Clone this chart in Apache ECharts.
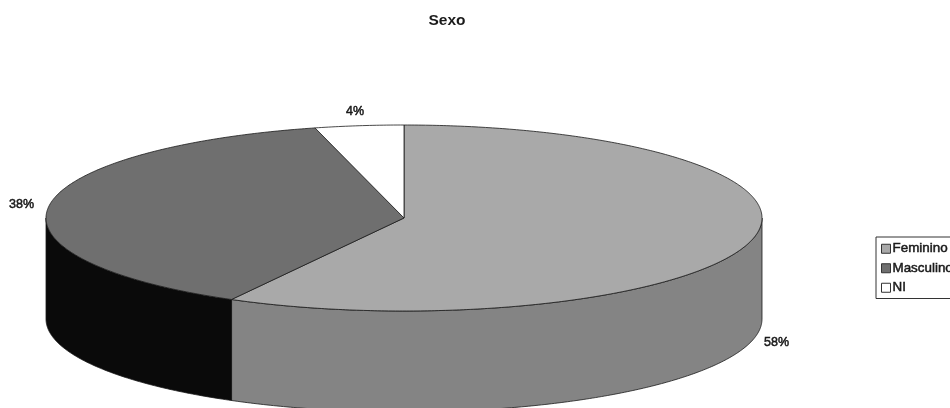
<!DOCTYPE html>
<html>
<head>
<meta charset="utf-8">
<style>html,body{margin:0;padding:0;background:#fff;overflow:hidden}#chart{width:950px;height:408px}</style>
<script src="https://cdn.jsdelivr.net/npm/echarts@6/dist/echarts.min.js"></script>
</head>
<body>
<div id="chart"></div>
<script>
// Distribution by sex, drawn as an extruded pie
const chartTitle = 'Sexo';
const categories = ['Feminino', 'Masculino', 'NI'];
const percentages = [58, 38, 4];
const topColors = ['#a9a9a9', '#6f6f6f', '#ffffff'];
const sideColors = ['#848484', '#0a0a0a', '#ffffff'];
const labelAnchors = [[764, 343], [9, 205], [346, 112]];

// Disc geometry in page pixels
const disc = { cx: 404, cy: 218, rx: 358, ry: 93, depth: 101 };
const total = percentages.reduce((a, b) => a + b, 0);
const fontFamily = '"Liberation Sans", Arial, sans-serif';

function rimPoint(angle, drop) {
  return [disc.cx + disc.rx * Math.sin(angle), disc.cy - disc.ry * Math.cos(angle) + drop];
}

function arcPoints(from, to, drop) {
  const steps = Math.max(2, Math.ceil(Math.abs(to - from) / 0.01));
  const pts = [];
  for (let i = 0; i <= steps; i++) pts.push(rimPoint(from + (to - from) * i / steps, drop));
  return pts;
}

function sliceRenderer(index) {
  const before = percentages.slice(0, index).reduce((a, b) => a + b, 0);
  const start = before / total * 2 * Math.PI;
  const end = (before + percentages[index]) / total * 2 * Math.PI;
  const line = { stroke: '#1a1a1a', lineWidth: 0.8 };
  return function () {
    const children = [];
    // Only the rim between 90 and 270 degrees faces the viewer
    const a = Math.max(start, Math.PI / 2);
    const b = Math.min(end, 3 * Math.PI / 2);
    if (b > a) {
      const wall = arcPoints(a, b, 0).concat(arcPoints(b, a, disc.depth));
      children.push({
        type: 'polygon', shape: { points: wall },
        style: Object.assign({ fill: sideColors[index] }, line)
      });
    }
    const wedge = [[disc.cx, disc.cy]].concat(arcPoints(start, end, 0));
    children.push({
      type: 'polygon', shape: { points: wedge },
      style: Object.assign({ fill: topColors[index] }, line)
    });
    children.push({
      type: 'text',
      style: {
        text: percentages[index] + '%',
        x: labelAnchors[index][0], y: labelAnchors[index][1],
        font: '400 12.5px ' + fontFamily,
        fill: '#1a1a1a', stroke: '#1a1a1a', lineWidth: 0.5,
        align: 'left', verticalAlign: 'middle'
      }
    });
    return { type: 'group', children: children };
  };
}

const chart = echarts.init(document.getElementById('chart'), null, { renderer: 'canvas' });
chart.setOption({
  animation: false,
  backgroundColor: '#ffffff',
  title: {
    text: chartTitle, left: 442, top: 8, textAlign: 'center',
    textStyle: { fontFamily: fontFamily, fontWeight: 700, fontSize: 15.5, color: '#1a1a1a' }
  },
  legend: {
    orient: 'vertical', left: 876, top: 237, padding: [5, 10, 4, 5], itemGap: 6,
    itemWidth: 9, itemHeight: 9, icon: 'rect',
    borderColor: '#333', borderWidth: 1, selectedMode: false,
    itemStyle: { borderColor: '#333', borderWidth: 1 },
    textStyle: {
      fontFamily: fontFamily, fontSize: 13.4, color: '#1a1a1a',
      textBorderColor: '#1a1a1a', textBorderWidth: 0.5, padding: [0, 0, 0, -3]
    },
    data: categories
  },
  series: categories.map((name, i) => ({
    type: 'custom',
    name: name,
    coordinateSystem: 'none',
    data: [percentages[i]],
    itemStyle: { color: topColors[i] },
    silent: true,
    renderItem: sliceRenderer(i)
  }))
});
</script>
</body>
</html>
